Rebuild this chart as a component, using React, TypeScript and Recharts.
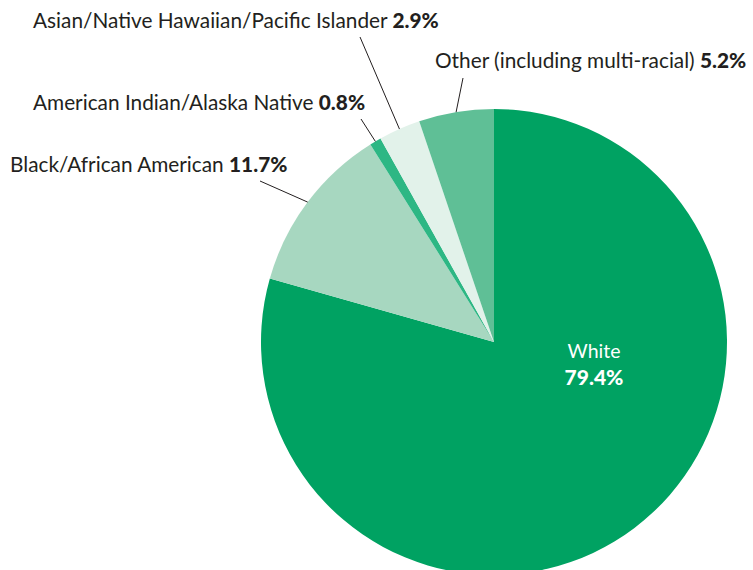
import { Cell, Pie, PieChart } from "recharts";

const groups = [
  "White",
  "Black/African American",
  "American Indian/Alaska Native",
  "Asian/Native Hawaiian/Pacific Islander",
  "Other (including multi-racial)",
];
const shares = [79.4, 11.7, 0.8, 2.9, 5.2];
const colors = ["#00a262", "#a7d7c0", "#2db784", "#e2f2ea", "#5fbf96"];

const data = groups.map((name, i) => ({ name, value: shares[i] }));

// where each outside label sits, and where its leader line stops
const labelSpots: Record<number, { x: number; y: number; lx: number; ly: number }> = {
  1: { x: 10, y: 172, lx: 260, ly: 181 },
  2: { x: 33, y: 110, lx: 361, ly: 119 },
  3: { x: 33, y: 28, lx: 360, ly: 37 },
  4: { x: 435, y: 68, lx: 463, ly: 78 },
};

const RAD = Math.PI / 180;
const font = "Lato, 'Open Sans', sans-serif";

function renderLabel(props: any) {
  const { cx, cy, midAngle, outerRadius, index, name, value } = props;
  if (index === 0) {
    return (
      <text x={594} y={358} textAnchor="middle" fill="#ffffff" fontFamily={font} fontSize={19.5}>
        <tspan x={594}>{name}</tspan>
        <tspan x={594} y={385} fontWeight={900} fontSize={21}>
          {value.toFixed(1)}%
        </tspan>
      </text>
    );
  }
  const spot = labelSpots[index];
  const ex = cx + outerRadius * Math.cos(-midAngle * RAD);
  const ey = cy + outerRadius * Math.sin(-midAngle * RAD);
  return (
    <g>
      <line x1={spot.lx} y1={spot.ly} x2={ex} y2={ey} stroke="#231f20" strokeWidth={1} />
      <text x={spot.x} y={spot.y} fill="#231f20" fontFamily={font} fontSize={20.8}>
        {name}{" "}
        <tspan fontWeight={900}>{value.toFixed(1)}%</tspan>
      </text>
    </g>
  );
}

export default function App() {
  return (
    <div style={{ position: "absolute", left: 0, top: 0, background: "#fff" }}>
      <PieChart width={753} height={570} margin={{ top: 0, right: 0, bottom: 0, left: 0 }}>
        <Pie
          data={data}
          dataKey="value"
          nameKey="name"
          cx={494}
          cy={342}
          outerRadius={233}
          startAngle={90}
          endAngle={-270}
          stroke="none"
          label={renderLabel}
          labelLine={false}
          isAnimationActive={false}
        >
          {data.map((d, i) => (
            <Cell key={d.name} fill={colors[i]} />
          ))}
        </Pie>
      </PieChart>
    </div>
  );
}
